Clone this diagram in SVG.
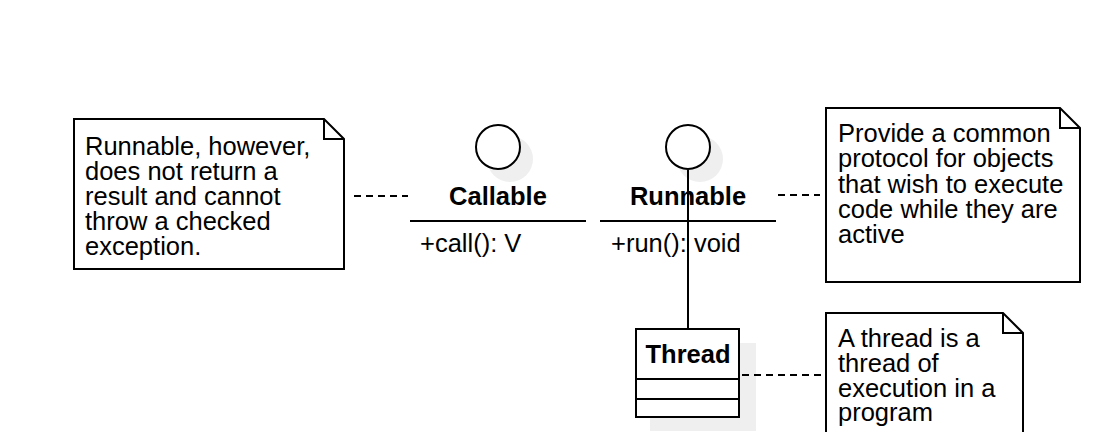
<svg xmlns="http://www.w3.org/2000/svg" width="1108" height="432" viewBox="0 0 1108 432">
<style>
.t{font-family:"Liberation Sans",Arial,sans-serif;font-size:25.5px;fill:#000}
.b{font-weight:bold}
.s{fill:none;stroke:#000;stroke-width:2}
.n{fill:#fff;stroke:#000;stroke-width:2}
.sh{fill:#efefef;stroke:none}
.d{fill:none;stroke:#000;stroke-width:2;stroke-dasharray:7 5}
</style>
<rect width="1108" height="432" fill="#fff"/>
<g id="note1">
<path class="n" d="M74 119 H324 L344 139 V269 H74 Z"/>
<path class="s" d="M324 119 V139 H344"/>
<text class="t" x="85" y="155">Runnable, however,</text>
<text class="t" x="85" y="180">does not return a</text>
<text class="t" x="85" y="205">result and cannot</text>
<text class="t" x="85" y="230">throw a checked</text>
<text class="t" x="85" y="255">exception.</text>
</g>
<g id="callable">
<circle class="sh" cx="510" cy="159" r="23"/>
<circle class="n" cx="498" cy="147" r="22"/>
<text class="t b" x="498" y="205" text-anchor="middle">Callable</text>
<line class="s" x1="410" y1="221" x2="586" y2="221"/>
<text class="t" x="420" y="252">+call(): V</text>
</g>
<g id="runnable">
<circle class="sh" cx="700" cy="159" r="23"/>
<circle class="n" cx="688" cy="147" r="22"/>
<text class="t b" x="688" y="205" text-anchor="middle">Runnable</text>
<line class="s" x1="600" y1="221" x2="776" y2="221"/>
<text class="t" x="611" y="252">+run(): void</text>
</g>
<g id="note2">
<path class="n" d="M826 108 H1060 L1080 128 V282 H826 Z"/>
<path class="s" d="M1060 108 V128 H1080"/>
<text class="t" x="838" y="142">Provide a common</text>
<text class="t" x="838" y="167">protocol for objects</text>
<text class="t" x="838" y="193">that wish to execute</text>
<text class="t" x="838" y="218">code while they are</text>
<text class="t" x="838" y="243">active</text>
</g>
<g id="thread">
<rect class="sh" x="650" y="343" width="106" height="88"/>
<rect class="n" x="636" y="329" width="103" height="88"/>
<line class="s" x1="636" y1="379" x2="739" y2="379"/>
<line class="s" x1="636" y1="399" x2="739" y2="399"/>
<text class="t b" x="688" y="363" text-anchor="middle">Thread</text>
</g>
<g id="note3">
<path class="n" d="M826 313 H1003 L1023 333 V440 H826 Z"/>
<path class="s" d="M1003 313 V333 H1023"/>
<text class="t" x="838" y="347">A thread is a</text>
<text class="t" x="838" y="372">thread of</text>
<text class="t" x="838" y="397">execution in a</text>
<text class="t" x="838" y="421">program</text>
</g>
<g id="connectors">
<line class="d" x1="354" y1="196" x2="408" y2="196"/>
<line class="d" x1="778" y1="195" x2="820" y2="195"/>
<line class="d" x1="742" y1="375" x2="822" y2="375"/>
<line class="s" x1="688" y1="170" x2="688" y2="328"/>
</g>
</svg>
